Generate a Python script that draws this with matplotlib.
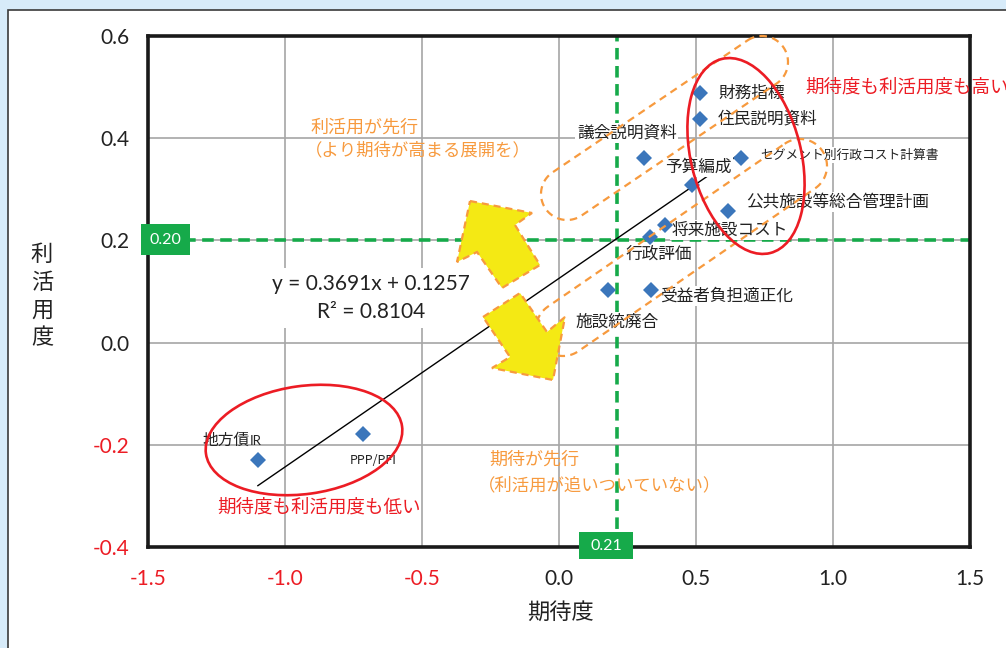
import matplotlib
matplotlib.use("Agg")
import matplotlib.pyplot as plt
from matplotlib.patches import Ellipse, Polygon, Rectangle
import numpy as np

# ---------------- data ----------------
labels = ["財務指標", "住民説明資料", "議会説明資料", "セグメント別行政コスト計算書",
          "予算編成", "公共施設等総合管理計画", "将来施設コスト", "行政評価",
          "受益者負担適正化", "施設統廃合", "地方債IR", "PPP/PFI"]
expect = [0.515, 0.515, 0.310, 0.664, 0.485, 0.617, 0.387, 0.332, 0.336, 0.179, -1.099, -0.715]
utilize = [0.488, 0.438, 0.361, 0.361, 0.308, 0.258, 0.230, 0.207, 0.103, 0.103, -0.230, -0.179]
slope, intercept, r2 = 0.3691, 0.1257, 0.8104
avg_expect, avg_utilize = 0.21, 0.20
xticks = [-1.5, -1.0, -0.5, 0.0, 0.5, 1.0, 1.5]
yticks = [-0.4, -0.2, 0.0, 0.2, 0.4, 0.6]

# ---------------- style ----------------
JP = ["Noto Sans CJK JP", "DejaVu Sans"]
NUM = ["Lato", "Noto Sans CJK JP", "DejaVu Sans"]
W, H = 1006, 648
BLUE = "#3b76bb"
GREEN = "#16aa4a"
ORANGE = "#f79a3e"
RED = "#ec1c24"
GRID = "#a6a6a6"

# label offsets in pixels (dx to left edge, dy downward) and font sizes
label_off = [(18, 0), (18, 0), (-67, -25), (19, -3), (-27, -18), (18, -9),
             (7, 5), (-24, 17), (9, 6), (-33, 32), (-55, -20), (-13, 26)]
label_fs = [12, 12, 12, 9.2, 12, 12, 12, 12, 12, 12, 11.3, 9]

fig = plt.figure(figsize=(W / 100, H / 100), dpi=100)
fig.patch.set_facecolor("#d7ebf9")
fig.add_artist(Rectangle((8 / W, -0.1), 1.2, 1 - 10 / H + 0.1, transform=fig.transFigure,
                         facecolor="white", edgecolor="#3a3a3a", lw=1.2, zorder=-1))

ax = fig.add_axes([148 / W, 1 - 547 / H, (970 - 148) / W, (547 - 36) / H])
ax.set_xlim(-1.5, 1.5)
ax.set_ylim(-0.4, 0.6)
ax.set_xticks(xticks)
ax.set_yticks(yticks)
ax.set_xticklabels([f"{v:.1f}" for v in xticks], fontfamily=NUM, fontsize=15)
ax.set_yticklabels([f"{v:.1f}" for v in yticks], fontfamily=NUM, fontsize=15)
for t, v in zip(ax.get_xticklabels(), xticks):
    t.set_color(RED if v < 0 else "#222222")
for t, v in zip(ax.get_yticklabels(), yticks):
    t.set_color(RED if v < 0 else "#222222")
ax.tick_params(length=0, pad=13)
ax.tick_params(axis="x", pad=16)
ax.grid(True, color=GRID, lw=1.2, zorder=0)
ax.set_axisbelow(True)
for s in ax.spines.values():
    s.set_linewidth(2.6)
    s.set_color("#1a1a1a")

# average lines
ax.axhline(avg_utilize, color=GREEN, lw=2.6, ls=(0, (3.2, 1.8)), zorder=2)
ax.axvline(avg_expect, color=GREEN, lw=2.6, ls=(0, (3.2, 1.8)), zorder=2)

# trend line
xs = np.array([min(expect), max(expect)])
ax.plot(xs, slope * xs + intercept, color="black", lw=1.0, zorder=3)

# points
ax.plot(expect, utilize, ls="none", marker="D", ms=8.5, color=BLUE, mew=0, zorder=5)

for lab, x, y, (dx, dy), fs in zip(labels, expect, utilize, label_off, label_fs):
    if lab.endswith("IR"):
        ax.annotate(lab[:-2], (x, y), xytext=(dx, -dy), textcoords="offset pixels",
                    ha="left", va="center", fontsize=fs, family=JP, color="#222222", zorder=4)
        ax.annotate(lab[-2:], (x, y), xytext=(dx + 47, -dy - 1), textcoords="offset pixels",
                    ha="left", va="center", fontsize=9.5, family=NUM, color="#222222",
                    zorder=4)
        continue
    ax.annotate(lab, (x, y), xytext=(dx, -dy), textcoords="offset pixels",
                ha="left", va="center", fontsize=fs, family=JP, color="#222222", zorder=4,
                bbox=dict(boxstyle="square,pad=0.1", fc="white", ec="none"))

# axis titles
fig.text(42 / W, 1 - 296 / H, "利\n活\n用\n度", ha="center", va="center", fontsize=16,
         family=JP, color="#222222", linespacing=1.25)
fig.text(560 / W, 1 - 612 / H, "期待度", ha="center", va="center", fontsize=16,
         family=JP, color="#222222")

# ---------------- overlay in pixel coordinates ----------------
ov = fig.add_axes([0, 0, 1, 1], zorder=5)
ov.set_xlim(0, W)
ov.set_ylim(H, 0)
ov.axis("off")
ov.patch.set_alpha(0)


def stadium(c1, c2, r, n=40):
    c1 = np.asarray(c1, float)
    c2 = np.asarray(c2, float)
    phi = np.arctan2(c2[1] - c1[1], c2[0] - c1[0])
    a2 = np.linspace(phi - np.pi / 2, phi + np.pi / 2, n)
    a1 = np.linspace(phi + np.pi / 2, phi + 3 * np.pi / 2, n)
    pts = np.vstack([c2 + r * np.c_[np.cos(a2), np.sin(a2)],
                     c1 + r * np.c_[np.cos(a1), np.sin(a1)]])
    return Polygon(pts, closed=True, fill=False, ec=ORANGE, lw=1.6, ls=(0, (3.4, 2.4)))


ov.add_patch(stadium((567, 194), (762, 62), 26))
ov.add_patch(stadium((563, 329), (800, 166), 27))

# red ellipses
ov.add_patch(Ellipse((746, 156), 110, 200, angle=-14, fill=False, ec=RED, lw=1.9))
ov.add_patch(Ellipse((304, 440), 198, 108, angle=-8, fill=False, ec=RED, lw=1.9))

# yellow double arrows
up_arrow = [(470, 201), (532, 213), (515, 225), (540, 265), (502, 288), (477, 252), (457, 262)]
down_arrow = [(483, 317), (520, 293), (547, 332), (565, 317), (553, 380), (492, 368), (510, 357)]
for pts in (up_arrow, down_arrow):
    ov.add_patch(Polygon(pts, closed=True, fc="#f4e914", ec=ORANGE, lw=1.6,
                         ls=(0, (3.2, 2.2)), joinstyle="miter"))

# regression text
ov.text(371, 298, f"y = {slope}x + {intercept}\nR² = {r2}", ha="center", va="center",
        fontsize=15, family=NUM, color="#222222", linespacing=1.45,
        bbox=dict(boxstyle="square,pad=0.3", fc="white", ec="none"))

# comment texts
ov.text(311, 128, "利活用が先行", ha="left", va="center", fontsize=13, family=JP, color=ORANGE)
ov.text(305, 150, "（より期待が高まる展開を）", ha="left", va="center", fontsize=12.5,
        family=JP, color=ORANGE)
ov.text(489, 460, "期待が先行", ha="left", va="center", fontsize=13, family=JP, color=ORANGE)
ov.text(478, 485, "（利活用が追いついていない）", ha="left", va="center", fontsize=12.5,
        family=JP, color=ORANGE)
ov.text(805, 88, "期待度も利活用度も高い", ha="left", va="center", fontsize=13.3,
        family=JP, color=RED)
ov.text(217, 508, "期待度も利活用度も低い", ha="left", va="center", fontsize=13.3,
        family=JP, color=RED)

# average value boxes
ov.add_patch(Rectangle((141, 224), 49, 31, fc=GREEN, ec="none"))
ov.text(165.5, 240, f"{avg_utilize:.2f}", ha="center", va="center", fontsize=11.5,
        family=NUM, color="white")
ov.add_patch(Rectangle((579, 532), 54, 27, fc=GREEN, ec="none"))
ov.text(606, 546, f"{avg_expect:.2f}", ha="center", va="center", fontsize=11.5,
        family=NUM, color="white")

fig.savefig("out.png", dpi=100, facecolor=fig.get_facecolor())
